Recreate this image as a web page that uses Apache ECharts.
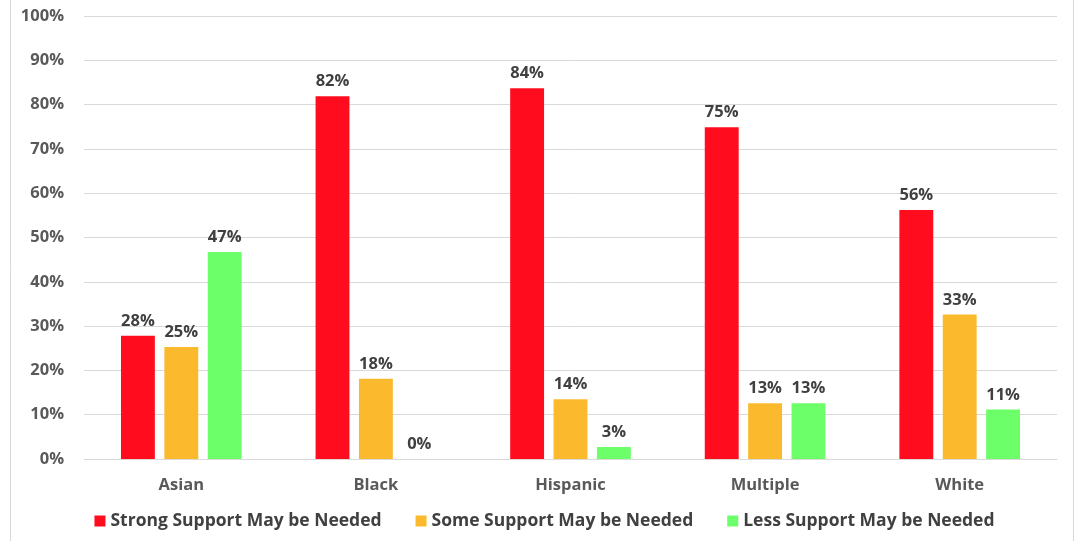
<!DOCTYPE html>
<html>
<head>
<meta charset="utf-8">
<script src="https://cdn.jsdelivr.net/npm/echarts@6/dist/echarts.min.js"></script>
<style>html,body{margin:0;padding:0;background:#fff}#c{width:1089px;height:541px}</style>
</head>
<body>
<div id="c"></div>
<script>
const categories = ['Asian', 'Black', 'Hispanic', 'Multiple', 'White'];
const strongSupport = [27.8, 81.9, 83.7, 74.9, 56.2];
const someSupport = [25.3, 18.1, 13.5, 12.6, 32.6];
const lessSupport = [46.7, 0, 2.7, 12.6, 11.2];
const seriesNames = ['Strong Support May be Needed', 'Some Support May be Needed', 'Less Support May be Needed'];
const yTicks = [0, 10, 20, 30, 40, 50, 60, 70, 80, 90, 100];

const font = '"Open Sans", sans-serif';
const chart = echarts.init(document.getElementById('c'));
const labelCfg = {
  show: true, position: 'top', distance: 6,
  color: '#404040', fontWeight: 'bold', fontSize: 16.5, fontFamily: font,
  formatter: p => Math.round(p.value) + '%'
};
const colors = ['#FF0D1E', '#FBBA2E', '#6CFF6A'];
chart.setOption({
  animation: false,
  textStyle: { fontFamily: font },
  graphic: [
    { type: 'line', shape: { x1: 10.5, y1: 0, x2: 10.5, y2: 541 }, style: { stroke: '#d9d9d9', lineWidth: 1 } },
    { type: 'line', shape: { x1: 1073.5, y1: 0, x2: 1073.5, y2: 541 }, style: { stroke: '#d9d9d9', lineWidth: 1 } }
  ],
  grid: { left: 84, right: 32, top: 16, bottom: 82, containLabel: false },
  legend: {
    bottom: 6, left: 'center', itemWidth: 11, itemHeight: 11, itemGap: 34,
    icon: 'rect',
    textStyle: { color: '#404040', fontWeight: 'bold', fontSize: 17.5, fontFamily: font },
    data: seriesNames
  },
  xAxis: {
    type: 'category', data: categories,
    axisLine: { show: true, lineStyle: { color: '#d9d9d9' } },
    axisTick: { show: false },
    axisLabel: { color: '#595959', fontWeight: 'bold', fontSize: 16.5, margin: 18, fontFamily: font }
  },
  yAxis: {
    type: 'value', min: yTicks[0], max: yTicks[yTicks.length - 1], interval: 10,
    axisLine: { show: false }, axisTick: { show: false },
    splitLine: { lineStyle: { color: '#d9d9d9' } },
    axisLabel: { color: '#595959', fontWeight: 'bold', fontSize: 16.5, margin: 20, fontFamily: font, formatter: v => v + '%' }
  },
  series: [strongSupport, someSupport, lessSupport].map((d, i) => ({
    name: seriesNames[i], type: 'bar', data: d,
    barGap: '28%', barCategoryGap: '38%',
    itemStyle: { color: colors[i] },
    label: labelCfg
  }))
});
</script>
</body>
</html>
